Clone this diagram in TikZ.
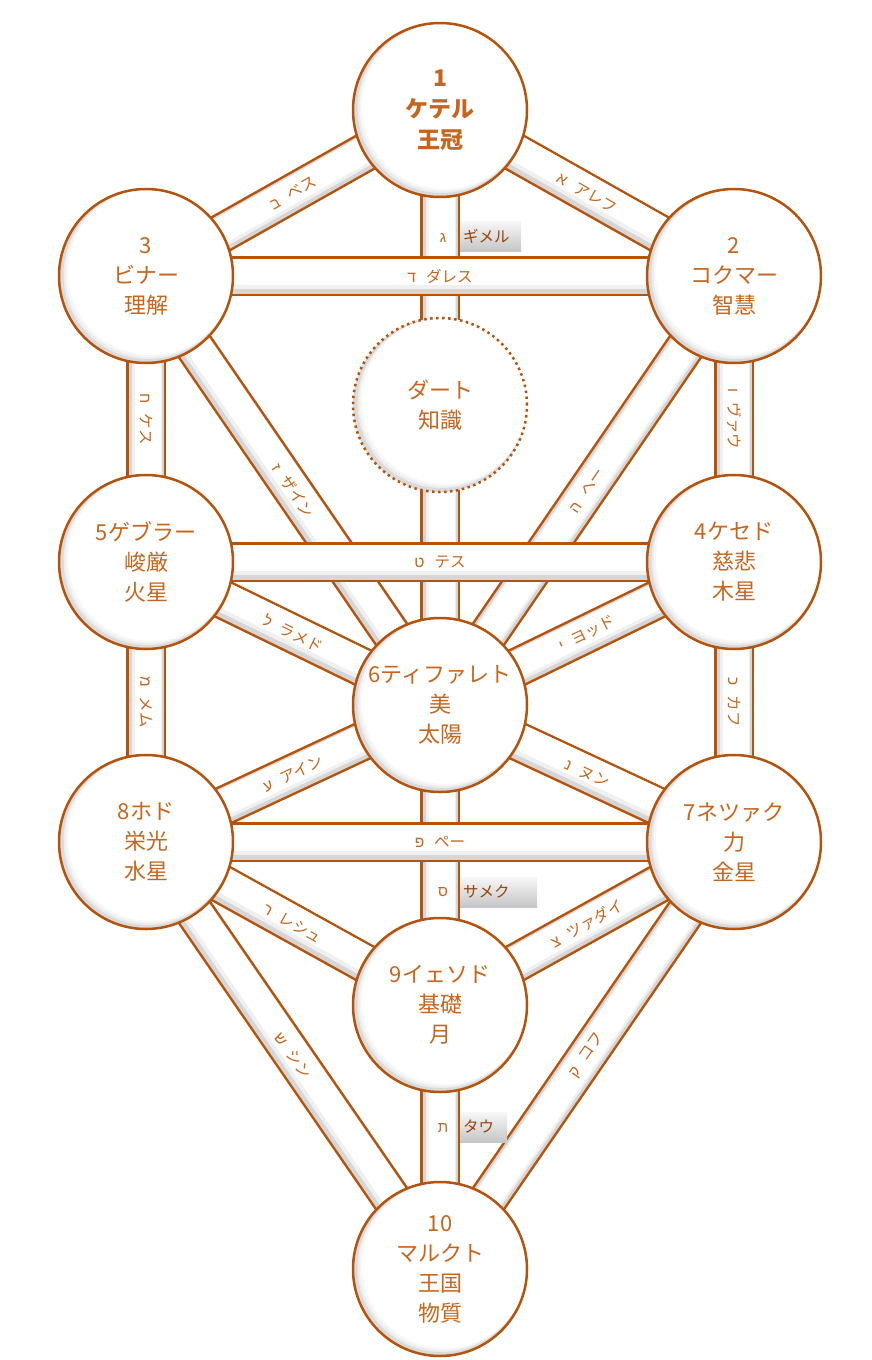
\documentclass[tikz,border=0pt]{standalone}
\usepackage{fontspec}
\setmainfont{Noto Sans CJK JP}
\newfontfamily\heb[Script=Hebrew]{Liberation Sans}
\usetikzlibrary{backgrounds}

\definecolor{pathline}{RGB}{180,84,12}
\definecolor{sephtext}{RGB}{198,102,30}
\definecolor{tagtext}{RGB}{150,66,10}

\tikzset{
  sephira/.style={circle, draw=pathline, line width=2.5pt, minimum size=174pt, inner sep=0pt,
    align=center, text=sephtext, font=\fontsize{22}{30}\selectfont, fill=gray!28,
    path picture={
      \fill[gray!14] ([shift={(2,-1.5)}]path picture bounding box.center) circle (84.5);
      \fill[gray!6] ([shift={(3.5,-3)}]path picture bounding box.center) circle (84);
      \fill[white] ([shift={(5,-4)}]path picture bounding box.center) circle (83);}},
  bandedge/.style={draw=pathline, line width=40pt},
  bandshade/.style={draw=gray!32, line width=35pt},
  bandlight/.style={draw=gray!12, line width=30pt, transform canvas={shift={(1,-2)}}},
  bandwhite/.style={draw=white, line width=26pt, transform canvas={shift={(2,-4)}}},
  bandlabel/.style={sloped, text=sephtext, font=\fontsize{15.5}{15.5}\selectfont, inner sep=0pt},
  letter/.style={text=sephtext, font=\fontsize{15}{15}\selectfont\heb, inner sep=0pt},
  tagbox/.style={anchor=west, align=left, minimum height=30pt, inner xsep=3pt,
    top color=gray!6, middle color=gray!12, bottom color=gray!45,
    text=tagtext, font=\fontsize{15.5}{15.5}\selectfont}
}

\begin{document}
\begin{tikzpicture}[x=1pt, y=-1pt]
  \useasboundingbox (0,0) rectangle (871,1360);

  % sephiroth
  \node[sephira, font=\fontsize{23}{31}\selectfont\bfseries] (keter) at (440,110) {1\\ケテル\\王冠};
  \node[sephira] (chokmah) at (734,276) {2\\コクマー\\智慧};
  \node[sephira] (binah) at (146,276) {3\\ビナー\\理解};
  \node[sephira, dash pattern=on 2.5pt off 3.5pt] (daath) at (440,405) {ダート\\知識};
  \node[sephira] (chesed) at (734,562) {4ケセド\\慈悲\\木星};
  \node[sephira] (geburah) at (146,562) {5ゲブラー\\峻厳\\火星};
  \node[sephira] (tiph) at (440,705) {6ティファレト\\美\\太陽};
  \node[sephira] (netzach) at (734,842) {7ネツァク\\力\\金星};
  \node[sephira] (hod) at (146,842) {8ホド\\栄光\\水星};
  \node[sephira] (yesod) at (440,1005) {9イェソド\\基礎\\月};
  \node[sephira] (malkuth) at (440,1269) {10\\マルクト\\王国\\物質};

  % paths
  \begin{scope}[on background layer]
    \foreach \a/\b/\lab in {
        binah/keter/{{\heb ב}\hspace{10pt}ベス},
        keter/chokmah/{{\heb א}\hspace{10pt}アレフ},
        keter/tiph/{},
        tiph/chokmah/{{\heb ה}\hspace{10pt}ヘー},
        chokmah/chesed/{{\heb ו}\hspace{10pt}ヴァウ},
        binah/tiph/{{\heb ז}\hspace{10pt}ザイン},
        binah/geburah/{{\heb ח}\hspace{10pt}ケス},
        tiph/chesed/{{\heb י}\hspace{10pt}ヨッド},
        chesed/netzach/{{\heb כ}\hspace{10pt}カフ},
        geburah/tiph/{{\heb ל}\hspace{10pt}ラメド},
        geburah/hod/{{\heb מ}\hspace{10pt}メム},
        tiph/netzach/{{\heb נ}\hspace{10pt}ヌン},
        tiph/yesod/{},
        hod/tiph/{{\heb ע}\hspace{10pt}アイン},
        yesod/netzach/{{\heb צ}\hspace{10pt}ツァダイ},
        malkuth/netzach/{{\heb ק}\hspace{10pt}コフ},
        hod/yesod/{{\heb ר}\hspace{10pt}レシュ},
        hod/malkuth/{{\heb ש}\hspace{10pt}シン},
        yesod/malkuth/{},
        binah/chokmah/{{\heb ד}\hspace{10pt}ダレス},
        geburah/chesed/{{\heb ט}\hspace{10pt}テス},
        hod/netzach/{{\heb פ}\hspace{10pt}ペー}} {
      \draw[bandedge] (\a.center) -- (\b.center);
      \draw[bandshade] (\a.center) -- (\b.center);
      \draw[bandlight] (\a.center) -- (\b.center);
      \draw[bandwhite] (\a.center) -- (\b.center);
      \path (\a.center) -- node[bandlabel] (lab-\a-\b) {\lab} (\b.center);
    }
  \end{scope}

  % letters with tags
  \node[letter] (gimel) at (443,238) {ג};
  \node[tagbox, text width=55pt] (gimeltag) at (460,236) {ギメル};
  \node[letter] (samekh) at (443,892) {ס};
  \node[tagbox, text width=71pt] (samekhtag) at (460,892) {サメク};
  \node[letter] (tav) at (443,1128) {ת};
  \node[tagbox, text width=41pt] (tavtag) at (460,1127) {タウ};

\end{tikzpicture}
\end{document}
